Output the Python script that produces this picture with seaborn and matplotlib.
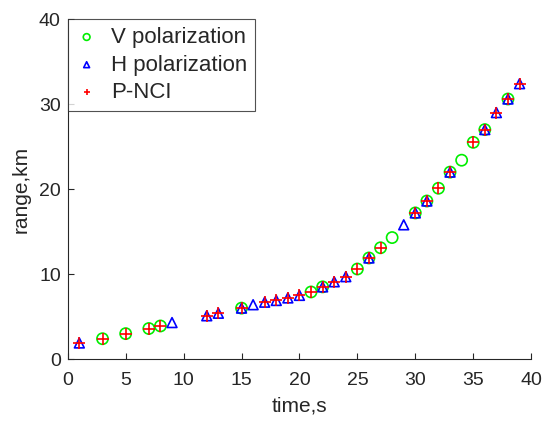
import matplotlib
matplotlib.use("Agg")
import matplotlib.pyplot as plt
import seaborn as sns
import pandas as pd

# time (s) -> range (km) readings
times_all = [1, 3, 5, 7, 8, 9, 12, 13, 15, 16, 17, 18, 19, 20, 21, 22, 23, 24,
             25, 26, 27, 28, 29, 30, 31, 32, 33, 34, 35, 36, 37, 38, 39]
range_all = [1.9, 2.4, 3.0, 3.6, 3.9, 4.3, 5.1, 5.4, 6.0, 6.4, 6.7, 6.9, 7.2, 7.5,
             7.9, 8.5, 9.1, 9.7, 10.6, 11.9, 13.1, 14.3, 15.8, 17.2, 18.6, 20.1,
             22.0, 23.4, 25.5, 27.0, 29.0, 30.6, 32.4]

v_times = [3, 5, 7, 8, 15, 21, 22, 25, 26, 27, 28, 30, 31, 32, 33, 34, 35, 36, 38]
h_times = [1, 9, 12, 13, 15, 16, 17, 18, 19, 20, 22, 23, 24, 26, 29, 30, 31, 33,
           36, 37, 38, 39]
p_times = [1, 3, 5, 7, 8, 12, 13, 15, 17, 18, 19, 20, 21, 22, 23, 24, 25, 26, 27,
           30, 31, 32, 33, 35, 36, 37, 38, 39]

lookup = dict(zip(times_all, range_all))
v_df = pd.DataFrame({"time": v_times, "range": [lookup[t] for t in v_times]})
h_df = pd.DataFrame({"time": h_times, "range": [lookup[t] for t in h_times]})
p_df = pd.DataFrame({"time": p_times, "range": [lookup[t] for t in p_times]})

sns.set_style("white")
plt.rcParams["font.family"] = ["Liberation Sans", "DejaVu Sans"]

fig = plt.figure(figsize=(5.42, 4.24), dpi=100)
ax = fig.add_axes([0.125, 0.153, 0.855, 0.802])

sns.scatterplot(data=v_df, x="time", y="range", ax=ax, marker="o", s=65,
                facecolors="none", edgecolors="#00ee00", linewidths=1.2,
                label="V polarization", zorder=3)
sns.scatterplot(data=h_df, x="time", y="range", ax=ax, marker="^", s=50,
                facecolors="none", edgecolors="#0000ff", linewidths=1.2,
                label="H polarization", zorder=4)
sns.scatterplot(data=p_df, x="time", y="range", ax=ax, marker="+", s=70,
                color="#ff0000", linewidths=1.2, label="P-NCI", zorder=5)

ax.set_xlim(0, 40)
ax.set_ylim(0, 40)
ax.set_xticks(range(0, 41, 5))
ax.set_yticks(range(0, 41, 10))
ax.set_xlabel("time,s", fontsize=15, color="#262626", labelpad=6)
ax.set_ylabel("range,km", fontsize=15, color="#262626", labelpad=6)
ax.tick_params(direction="in", length=4, width=0.8, labelsize=14,
               colors="#262626", top=False, right=False, bottom=True, left=True)
ax.tick_params(axis="x", pad=9)
ax.tick_params(axis="y", pad=5)
for side in ["top", "right"]:
    ax.spines[side].set_visible(False)
for side in ["bottom", "left"]:
    ax.spines[side].set_color("#262626")
    ax.spines[side].set_linewidth(0.8)

leg = ax.legend(loc="upper left", bbox_to_anchor=(0.0, 1.0), fontsize=16,
                frameon=True, fancybox=False, edgecolor="#262626",
                handlelength=1.0, handletextpad=0.6, borderpad=0.35,
                labelspacing=0.3, borderaxespad=0.0, markerscale=0.6)
leg.get_frame().set_linewidth(0.8)

fig.savefig("out.png", dpi=100)
